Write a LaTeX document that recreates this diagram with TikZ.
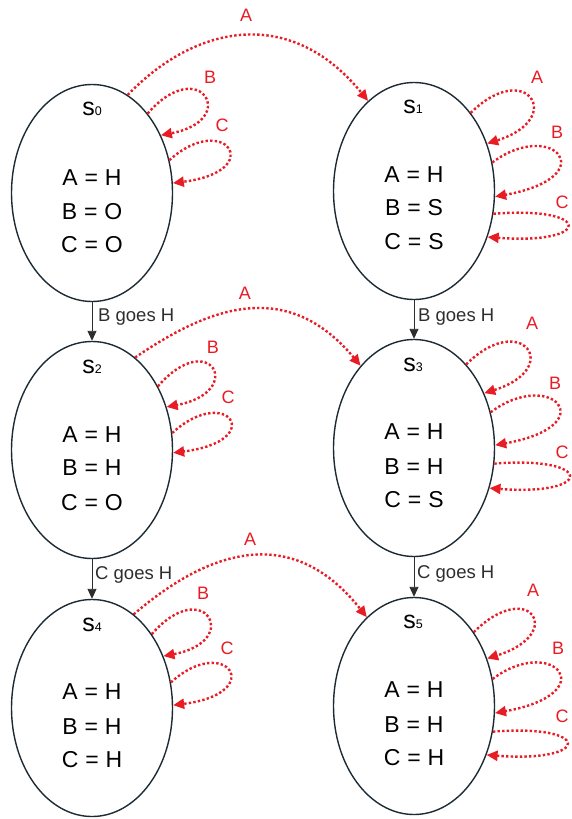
\documentclass[tikz,border=0pt]{standalone}
\usepackage{fontspec}
\setmainfont{Liberation Sans}
\usetikzlibrary{shapes.geometric,arrows.meta}
\definecolor{redarc}{RGB}{232,28,36}
\definecolor{edgecol}{RGB}{28,42,52}
\definecolor{blk}{RGB}{45,45,45}
\newcommand{\eqsp}{\hspace{0.3em}=\hspace{0.3em}}
\newcommand{\stn}[1]{s{\fontsize{12.5}{12.5}\selectfont #1}}
\tikzset{
 state/.style={ellipse, draw=edgecol, line width=1.4pt, minimum width=161pt, minimum height=217pt, inner sep=0pt},
 slab/.style={inner sep=0pt, font=\fontsize{25}{25}\selectfont},
 vals/.style={inner sep=0pt, font=\fontsize{23}{23}\selectfont},
 trans/.style={draw=redarc, line width=2.4pt, dash pattern=on 2.4pt off 2.2pt, -{Triangle[length=11pt,width=10pt]}},
 tlab/.style={text=redarc, inner sep=0pt, font=\fontsize{18}{18}\selectfont},
 goes/.style={draw=blk, line width=0.9pt, -{Triangle[length=10pt,width=9pt]}},
 glab/.style={anchor=west, inner sep=0pt, text=blk, font=\fontsize{18.5}{18.5}\selectfont},
}
\begin{document}
\begin{tikzpicture}[x=1pt,y=-1pt]
\useasboundingbox (0,0) rectangle (571,819);
% states
\node[state] (s0) at (92,193) {};
\node[state] (s1) at (414,191) {};
\node[state] (s2) at (92,450) {};
\node[state] (s3) at (414,448) {};
\node[state] (s4) at (92,708) {};
\node[state] (s5) at (414,706) {};
% state texts
\node[slab] (s0l) at (92,109) {\stn{0}};
\node[vals] (s0a) at (92,178) {A\eqsp H};
\node[vals] (s0b) at (92,212) {B\eqsp O};
\node[vals] (s0c) at (92,245) {C\eqsp O};
\node[slab] (s1l) at (413,107) {\stn{1}};
\node[vals] (s1a) at (414,175) {A\eqsp H};
\node[vals] (s1b) at (414,208) {B\eqsp S};
\node[vals] (s1c) at (414,242) {C\eqsp S};
\node[slab] (s2l) at (92,367) {\stn{2}};
\node[vals] (s2a) at (92,435) {A\eqsp H};
\node[vals] (s2b) at (92,468) {B\eqsp H};
\node[vals] (s2c) at (92,503) {C\eqsp O};
\node[slab] (s3l) at (413,365) {\stn{3}};
\node[vals] (s3a) at (414,432) {A\eqsp H};
\node[vals] (s3b) at (414,467) {B\eqsp H};
\node[vals] (s3c) at (414,500) {C\eqsp S};
\node[slab] (s4l) at (92,625) {\stn{4}};
\node[vals] (s4a) at (92,692) {A\eqsp H};
\node[vals] (s4b) at (92,727) {B\eqsp H};
\node[vals] (s4c) at (92,760) {C\eqsp H};
\node[slab] (s5l) at (413,622) {\stn{5}};
\node[vals] (s5a) at (414,690) {A\eqsp H};
\node[vals] (s5b) at (414,725) {B\eqsp H};
\node[vals] (s5c) at (414,758) {C\eqsp H};
% black transitions
\draw[goes] (s0) -- (s2);
\draw[goes] (s1) -- (s3);
\draw[goes] (s2) -- (s4);
\draw[goes] (s3) -- (s5);
\node[glab] (g02) at (98,317) {B goes H};
\node[glab] (g13) at (418,317) {B goes H};
\node[glab] (g24) at (95,575) {C goes H};
\node[glab] (g35) at (417,574) {C goes H};
% red A arcs between columns
\draw[trans] (s0.70) .. controls (195,25) and (290,5) .. (s1.117);
\draw[trans] (s2.65) .. controls (205,310) and (285,275) .. (s3.123);
\draw[trans] (s4.66) .. controls (205,553) and (290,520) .. (s5.118);
\node[tlab] (la01) at (246,15) {A};
\node[tlab] (la23) at (245,293) {A};
\node[tlab] (la45) at (250,539) {A};
% left column self loops
\draw[trans] (s0.55) .. controls +(52,-60) and +(80,-15) .. (s0.40);
\draw[trans] (s0.23) .. controls +(55,-50) and +(95,-12) .. (s0.7);
\draw[trans] (s2.44) .. controls +(52,-60) and +(80,-15) .. (s2.30);
\draw[trans] (s2.12) .. controls +(55,-50) and +(95,-12) .. (s2.-2);
\draw[trans] (s4.51) .. controls +(52,-60) and +(80,-15) .. (s4.36);
\draw[trans] (s4.18) .. controls +(55,-50) and +(95,-12) .. (s4.2);
\node[tlab] (lb0) at (210,77) {B};
\node[tlab] (lc0) at (222,125) {C};
\node[tlab] (lb2) at (213,347) {B};
\node[tlab] (lc2) at (228,397) {C};
\node[tlab] (lb4) at (203,593) {B};
\node[tlab] (lc4) at (227,648) {C};
% right column self loops
\draw[trans] (s1.54) .. controls +(55,-55) and +(80,-25) .. (s1.33);
\draw[trans] (s1.20) .. controls +(60,-45) and +(110,-20) .. (s1.-4);
\draw[trans] (s1.-16) .. controls +(100,-8) and +(105,8) .. (s1.-32);
\draw[trans] (s3.58) .. controls +(55,-55) and +(80,-25) .. (s3.38);
\draw[trans] (s3.25) .. controls +(60,-45) and +(110,-20) .. (s3.2);
\draw[trans] (s3.-11) .. controls +(100,-8) and +(105,8) .. (s3.-28);
\draw[trans] (s5.51) .. controls +(55,-55) and +(80,-25) .. (s5.33);
\draw[trans] (s5.19) .. controls +(60,-45) and +(110,-20) .. (s5.-5);
\draw[trans] (s5.-18) .. controls +(100,-8) and +(105,8) .. (s5.-34);
\node[tlab] (la1) at (537,77) {A};
\node[tlab] (lb1) at (557,132) {B};
\node[tlab] (lc1) at (562,202) {C};
\node[tlab] (la3) at (532,323) {A};
\node[tlab] (lb3) at (555,383) {B};
\node[tlab] (lc3) at (562,452) {C};
\node[tlab] (la5) at (533,590) {A};
\node[tlab] (lb5) at (558,648) {B};
\node[tlab] (lc5) at (562,716) {C};
\end{tikzpicture}
\end{document}
